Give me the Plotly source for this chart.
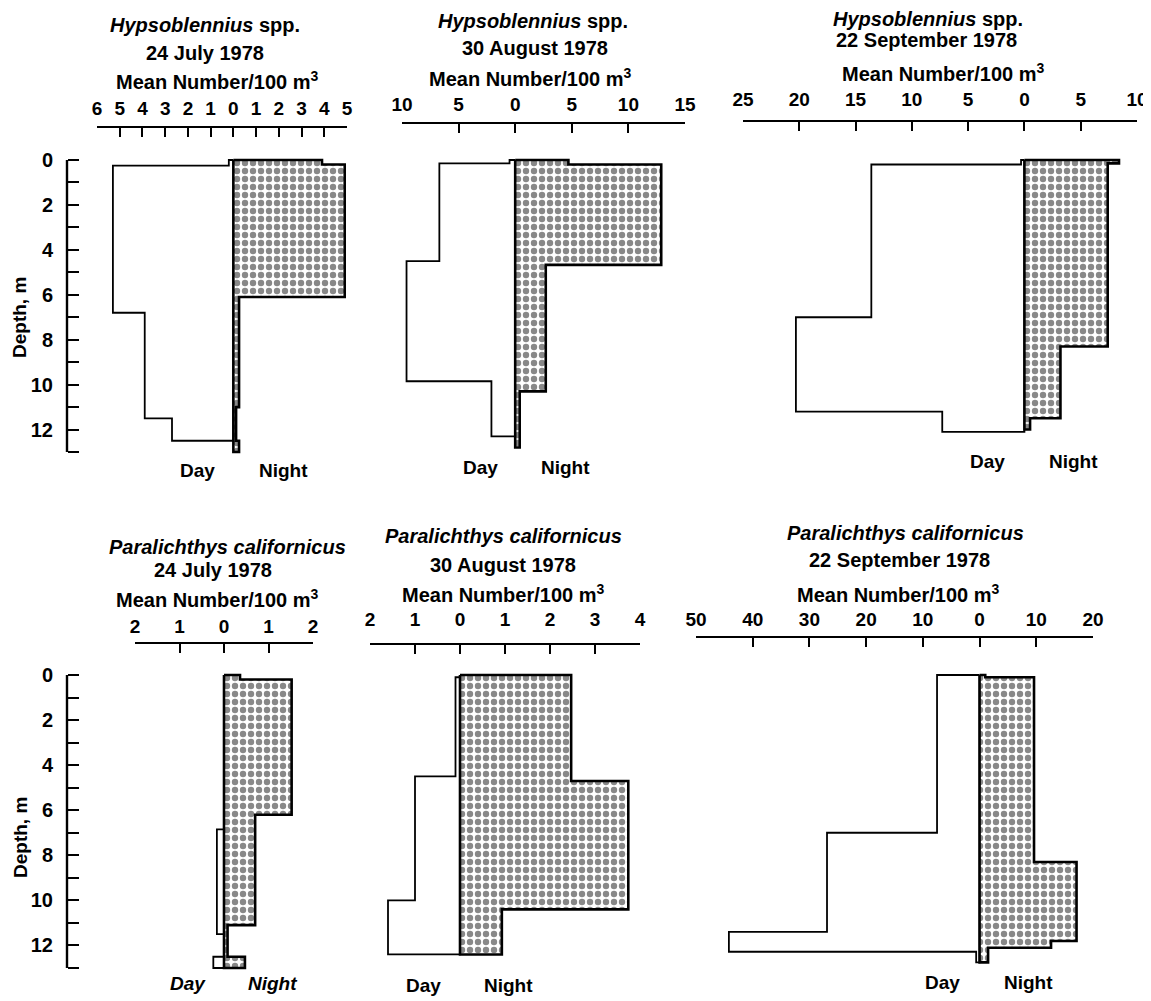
import plotly.graph_objects as go

W, H = 1151, 1001

# ------------------------- DATA -------------------------
species = ["<i>Hypsoblennius</i> spp.", "<i>Hypsoblennius</i> spp.", "<i>Hypsoblennius</i> spp.",
           "<i>Paralichthys californicus</i>", "<i>Paralichthys californicus</i>",
           "<i>Paralichthys californicus</i>"]
dates = ["24 July 1978", "30 August 1978", "22 September 1978",
         "24 July 1978", "30 August 1978", "22 September 1978"]
unit_label = "Mean Number/100 m<sup>3</sup>"

# depth boundaries (m) and mean number / 100 m^3 for each layer
p1_day_depth = [0, 0.25, 6.8, 11.5, 12.5]
p1_day_val = [0.2, 5.3, 3.9, 2.7]
p1_night_depth = [0, 0.2, 6.1, 11.0, 12.5, 13.0]
p1_night_val = [3.9, 4.9, 0.25, 0.12, 0.25]

p2_day_depth = [0, 0.15, 4.5, 9.85, 12.3]
p2_day_val = [0.5, 6.7, 9.6, 2.1]
p2_night_depth = [0, 0.2, 4.67, 10.3, 12.8]
p2_night_val = [4.7, 12.9, 2.7, 0.4]

p3_day_depth = [0, 0.2, 7.0, 11.2, 12.1]
p3_day_val = [0.3, 13.6, 20.3, 7.3]
p3_night_depth = [0, 0.15, 8.3, 11.5, 12.0]
p3_night_val = [8.4, 7.4, 3.2, 0.5]

p4_day_depth = [0, 6.85, 11.5, 12.5, 13.0]
p4_day_val = [0, 0.16, 0, 0.24]
p4_night_depth = [0, 0.2, 6.2, 11.1, 12.5, 13.0]
p4_night_val = [0.36, 1.52, 0.7, 0.08, 0.47]

p5_day_depth = [0, 0.1, 4.5, 10.0, 12.4]
p5_day_val = [0, 0.1, 1.0, 1.6]
p5_night_depth = [0, 4.7, 10.4, 12.4]
p5_night_val = [2.47, 3.74, 0.93]

p6_day_depth = [0, 7.0, 11.4, 12.28, 12.75]
p6_day_val = [7.5, 26.9, 44.2, 0.6]
p6_night_depth = [0, 0.1, 8.3, 11.8, 12.1, 12.75]
p6_night_val = [1.0, 9.6, 17.1, 12.6, 1.5]

p1_ticks = [-6, -5, -4, -3, -2, -1, 0, 1, 2, 3, 4, 5]
p2_ticks = [-10, -5, 0, 5, 10, 15]
p3_ticks = [-25, -20, -15, -10, -5, 0, 5, 10]
p4_ticks = [-2, -1, 0, 1, 2]
p5_ticks = [-2, -1, 0, 1, 2, 3, 4]
p6_ticks = [-50, -40, -30, -20, -10, 0, 10, 20]

depth_major = [0, 2, 4, 6, 8, 10, 12]
depth_minor = [1, 3, 5, 7, 9, 11, 13]

panels_data = [
    (p1_day_depth, p1_day_val, p1_night_depth, p1_night_val, p1_ticks),
    (p2_day_depth, p2_day_val, p2_night_depth, p2_night_val, p2_ticks),
    (p3_day_depth, p3_day_val, p3_night_depth, p3_night_val, p3_ticks),
    (p4_day_depth, p4_day_val, p4_night_depth, p4_night_val, p4_ticks),
    (p5_day_depth, p5_day_val, p5_night_depth, p5_night_val, p5_ticks),
    (p6_day_depth, p6_day_val, p6_night_depth, p6_night_val, p6_ticks),
]

# ------------------------- LAYOUT GEOMETRY (pixels, in screenshot coords) -------------------------
geom = [
    dict(x0=97, x1=347, axy=127, sto=3, row=0, tx=(205, 205, 217), ty=(25, 53, 80),
         day=(197, 470), night=(283, 470)),
    dict(x0=402, x1=685, axy=123, sto=3, row=0, tx=(533, 535, 530), ty=(21, 48, 78),
         day=(480, 467), night=(565, 467)),
    dict(x0=743, x1=1137, axy=121, sto=6, row=0, tx=(928, 927, 943), ty=(19, 40, 72),
         day=(987, 462), night=(1073, 462)),
    dict(x0=135, x1=313, axy=643, sto=1, row=1, tx=(227, 213, 217), ty=(547, 570, 598),
         day=(188, 983), night=(272, 983)),
    dict(x0=370, x1=640, axy=644, sto=9, row=1, tx=(503, 503, 503), ty=(536, 565, 593),
         day=(423, 985), night=(508, 985)),
    dict(x0=696, x1=1093, axy=637, sto=2, row=1, tx=(905, 899, 898), ty=(533, 560, 593),
         day=(942, 982), night=(1028, 982)),
]
rows = [dict(d0=160, d13=452), dict(d0=675, d13=968)]
YTOP, YBOT = -0.4, 13.3
depth_axis_x = 67
depth_title_x = 20
PAGE_OFFSET = 8  # the page body margin shifts the figure by this many px

FONT = "Liberation Sans"
TITLE_SIZE = 20


def px_x(p):
    return (p - PAGE_OFFSET) / W


def px_y(p):
    return 1 - (p - PAGE_OFFSET) / H


def step_poly(depths, vals, sign):
    xs, ys = [0], [depths[0]]
    for i, v in enumerate(vals):
        xs += [sign * v, sign * v]
        ys += [depths[i], depths[i + 1]]
    xs += [0, 0]
    ys += [depths[-1], depths[0]]
    return xs, ys


fig = go.Figure()
layout = dict(
    width=W, height=H, margin=dict(l=0, r=0, t=0, b=0, pad=0, autoexpand=False),
    paper_bgcolor="white", plot_bgcolor="rgba(0,0,0,0)",
    showlegend=False,
    font=dict(family=FONT, color="black", size=TITLE_SIZE, weight=700),
)
annotations = []
shapes = []

for k, (dd, dv, nd, nv, ticks) in enumerate(panels_data):
    g = geom[k]
    r = rows[g["row"]]
    ppm = (r["d13"] - r["d0"]) / 13.0
    ytop_px = r["d0"] + YTOP * ppm
    ybot_px = r["d0"] + YBOT * ppm
    sfx = "" if k == 0 else str(k + 1)
    xa, ya = "x" + sfx, "y" + sfx

    # day polygon (left, white)
    xs, ys = step_poly(dd, dv, -1)
    fig.add_trace(go.Scatter(x=xs, y=ys, xaxis=xa, yaxis=ya, mode="lines",
                             fill="toself", fillcolor="white",
                             line=dict(color="black", width=1.8),
                             hoverinfo="skip"))
    # night polygon (right, stippled)
    xs, ys = step_poly(nd, nv, 1)
    fig.add_trace(go.Scatter(x=xs, y=ys, xaxis=xa, yaxis=ya, mode="lines",
                             fill="toself",
                             fillpattern=dict(shape=".", fgcolor="#111111", bgcolor="white",
                                              size=8, solidity=0.5),
                             line=dict(color="black", width=2.6),
                             hoverinfo="skip"))

    layout["xaxis" + sfx] = dict(
        domain=[px_x(g["x0"]), px_x(g["x1"])],
        range=[ticks[0], ticks[-1]],
        anchor="free", position=px_y(g["axy"]), side="top",
        showline=True, linecolor="black", linewidth=2.2,
        ticks="inside", ticklen=9, tickwidth=2.2, tickcolor="black",
        tickvals=ticks, ticktext=[str(abs(t)) for t in ticks],
        tickfont=dict(family=FONT, size=19, weight=700),
        ticklabelstandoff=g["sto"], automargin=False,
        showgrid=False, zeroline=False, fixedrange=True,
    )
    yax = dict(
        domain=[px_y(ybot_px), px_y(ytop_px)],
        range=[YBOT, YTOP], automargin=False,
        showgrid=False, zeroline=False, fixedrange=True,
    )
    if k in (0, 3):
        yax.update(anchor="free", position=px_x(depth_axis_x), side="left",
                   showline=False, ticks="inside", ticklen=11, tickwidth=2.2,
                   tickcolor="black", tickvals=depth_major,
                   ticktext=[str(v) for v in depth_major],
                   minor=dict(tickvals=depth_minor, ticks="inside", ticklen=11,
                              tickwidth=2.2, tickcolor="black", showgrid=False),
                   tickfont=dict(family=FONT, size=20, weight=700),
                   ticklabelstandoff=14)
        shapes.append(dict(type="line", xref="paper", yref=ya,
                           x0=px_x(depth_axis_x), x1=px_x(depth_axis_x), y0=0, y1=13,
                           line=dict(color="black", width=2.4)))
        annotations.append(dict(text="Depth, m", xref="paper", yref="paper",
                                x=px_x(depth_title_x), y=px_y(318 if k == 0 else 838),
                                xanchor="center", yanchor="middle",
                                showarrow=False, textangle=-90,
                                font=dict(size=19, weight=700)))
    else:
        yax.update(visible=False, anchor=xa)
    layout["yaxis" + sfx] = yax

    for txt, x, y in zip([species[k], dates[k], unit_label], g["tx"], g["ty"]):
        annotations.append(dict(text=txt, xref="paper", yref="paper", x=px_x(x), y=px_y(y),
                                showarrow=False, xanchor="center", yanchor="middle",
                                font=dict(size=TITLE_SIZE, weight=700)))
    italic = "italic" if k == 3 else "normal"
    for lab, pos in (("Day", g["day"]), ("Night", g["night"])):
        annotations.append(dict(text=lab, xref="paper", yref="paper", x=px_x(pos[0]),
                                y=px_y(pos[1]), xanchor="center", yanchor="middle",
                                showarrow=False,
                                font=dict(size=19, weight=700, style=italic)))

layout["annotations"] = annotations
layout["shapes"] = shapes
fig.update_layout(**layout)
fig.write_html("out.html")
